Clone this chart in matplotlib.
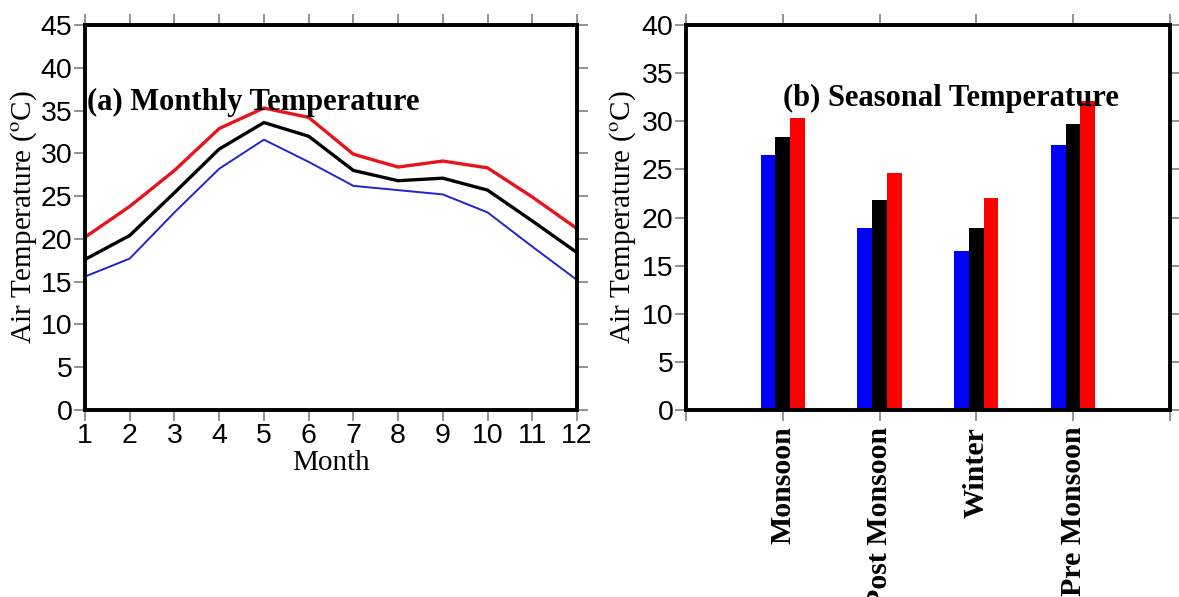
import matplotlib
matplotlib.use("Agg")
import matplotlib.pyplot as plt
import numpy as np

plt.rcParams["font.family"] = "Liberation Sans"
plt.rcParams["mathtext.fontset"] = "stix"

# monthly air temperature: minimum, mean, maximum
months = list(range(1, 13))
t_min = [15.6, 17.7, 23.1, 28.2, 31.6, 29.0, 26.2, 25.7, 25.2, 23.1, 19.1, 15.2]
t_mean = [17.6, 20.4, 25.4, 30.5, 33.6, 32.0, 28.0, 26.8, 27.1, 25.7, 22.1, 18.4]
t_max = [20.2, 23.8, 28.0, 32.9, 35.3, 34.2, 29.9, 28.4, 29.1, 28.3, 24.9, 21.2]

# seasonal air temperature
seasons = ["Monsoon", "Post Monsoon", "Winter", "Pre Monsoon"]
s_min = [26.5, 18.9, 16.5, 27.5]
s_mean = [28.4, 21.8, 18.9, 29.7]
s_max = [30.3, 24.6, 22.0, 32.1]

ylabel = "Air Temperature ($^{\\mathrm{o}}$C)"
serif = "Liberation Serif"

fig = plt.figure(figsize=(11.79, 5.97), dpi=100)
ax1 = fig.add_axes([0.0721, 0.3132, 0.4173, 0.6449])
ax2 = fig.add_axes([0.5818, 0.3132, 0.4105, 0.6449])


def style_axes(ax):
    for sp in ax.spines.values():
        sp.set_linewidth(2.8)
    ax.tick_params(which="both", direction="out", length=8, width=1.3,
                   color="#8a8a8a", top=True, right=True, labelsize=20.5,
                   pad=1)
    ax.tick_params(axis="x", which="both", labeltop=False)
    ax.tick_params(axis="y", which="both", labelright=False)


# (a) monthly lines
ax1.plot(months, t_max, color="#e8141b", lw=2.4)
ax1.plot(months, t_mean, color="black", lw=2.4)
ax1.plot(months, t_min, color="#2323d0", lw=1.4)
ax1.set_xlim(1, 12)
ax1.set_ylim(0, 45)
ax1.set_xticks(months)
ax1.set_yticks(np.arange(0, 46, 5))
style_axes(ax1)
ax1.set_xlabel("Month", family=serif, fontsize=21)
ax1.xaxis.set_label_coords(0.5, -0.105)
ax1.set_ylabel(ylabel, family=serif, fontsize=21)
ax1.yaxis.set_label_coords(-0.094, 0.5)
ax1.text(0.005, 0.80, "(a) Monthly Temperature", transform=ax1.transAxes,
         family=serif, fontsize=22, fontweight="bold", va="center")

# (b) seasonal bars
x = np.arange(1, len(seasons) + 1)
w = 0.152
ax2.bar(x - w, s_min, width=w, color="#0000ff")
ax2.bar(x, s_mean, width=w, color="black")
ax2.bar(x + w, s_max, width=w, color="#ff0000")
ax2.set_xlim(0, 5)
ax2.set_ylim(0, 40)
ax2.set_xticks(np.arange(0, 6))
ax2.set_xticklabels([""] + seasons + [""], rotation=90, family=serif,
                    fontweight="bold")
ax2.set_yticks(np.arange(0, 41, 5))
style_axes(ax2)
ax2.tick_params(axis="x", labelsize=21.5, pad=4)
ax2.set_ylabel(ylabel, family=serif, fontsize=21)
ax2.yaxis.set_label_coords(-0.100, 0.5)
ax2.text(0.20, 0.81, "(b) Seasonal Temperature", transform=ax2.transAxes,
         family=serif, fontsize=22, fontweight="bold", va="center")

fig.savefig("out.png", dpi=100)
